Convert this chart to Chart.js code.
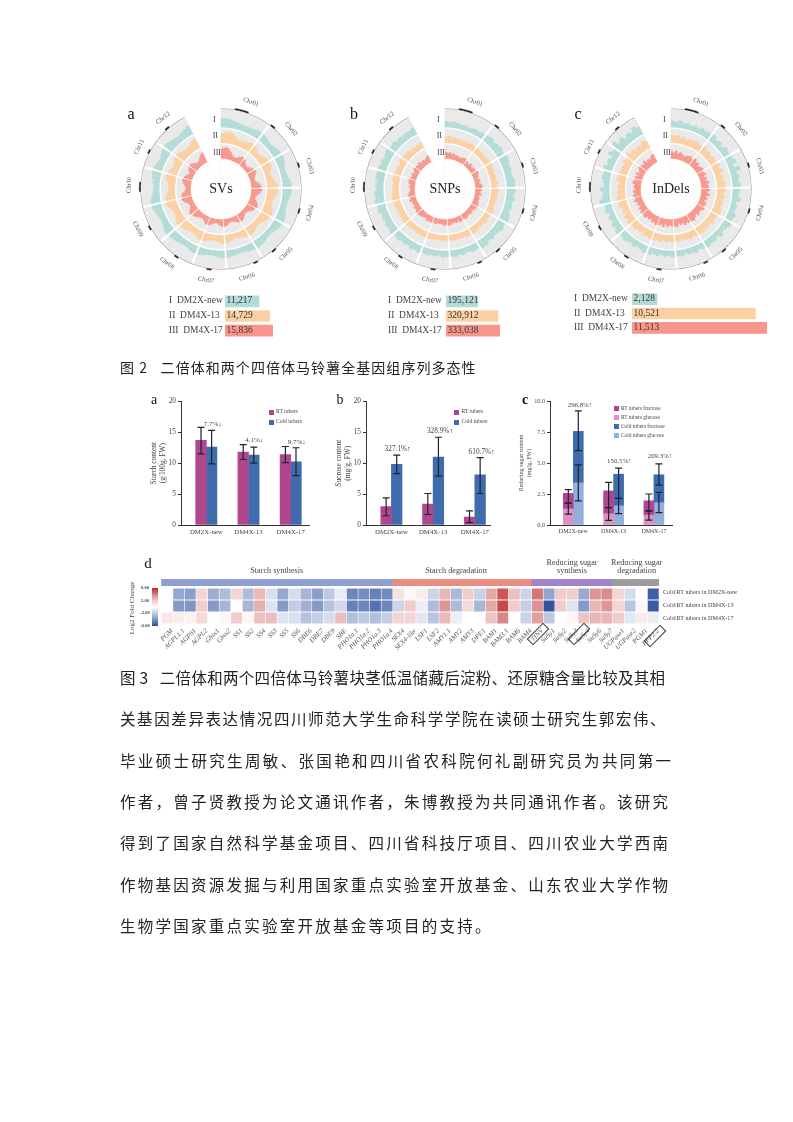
<!DOCTYPE html>
<html>
<head>
<meta charset="utf-8">
<script src="https://cdn.jsdelivr.net/npm/chart.js@4"></script>
<style>
html, body { margin: 0; padding: 0; background: #fff; }
#page { position: relative; width: 793px; height: 1122px; overflow: hidden; font-family: "Liberation Serif", serif; color: #444; filter: blur(0.4px); }
#page canvas { position: absolute; }
.t { position: absolute; white-space: pre; line-height: 1; transform: translate(-50%, -50%); }
.l { position: absolute; white-space: pre; line-height: 1; transform: translateY(-50%); }
.zh { position: absolute; white-space: pre; line-height: 1; transform: translateY(-50%); font-family: "Noto Sans CJK SC", sans-serif; color: #222; }
.sw { position: absolute; width: 5px; height: 5px; }
.box { position: absolute; border: 1px solid #333; transform: translate(-50%, -50%) rotate(-45deg); }
</style>
</head>
<body>
<div id="page"></div>
<script>
// circular plots: 12 chromosomes, bin counts per chromosome
const chromosomes = ['Chr01','Chr02','Chr03','Chr04','Chr05','Chr06','Chr07','Chr08','Chr09','Chr10','Chr11','Chr12'];
const chrSpans = [38, 23, 29, 30, 30, 27, 25, 28, 28, 29, 20, 28];
const chrBins = [11, 6, 8, 8, 8, 8, 7, 8, 8, 8, 6, 8];
const centromereBins = [3,4,5, 11, 20, 29, 38, 42, 52, 59, 67, 75,76, 83, 89];

// ring heights, % of the ring
const svI = [52,50,47,42,38,34,32,34,38,42,46,
  44,38,30,32,40,46,
  48,44,36,30,32,38,46,50,
  52,46,40,34,34,38,46,52,
  50,44,36,30,30,36,42,46,
  42,38,34,30,30,34,38,42,
  44,38,32,30,32,38,44,
  46,40,34,32,34,40,44,46,
  52,46,40,34,34,40,48,54,
  54,48,40,34,34,40,48,52,
  50,44,36,36,44,50,
  54,48,42,38,36,40,48,56];
const svII = [66,78,82,76,62,48,42,44,50,58,66,
  62,50,40,42,54,64,
  70,62,48,42,44,54,68,76,
  80,72,58,48,46,56,70,78,
  72,62,48,40,40,48,60,66,
  60,52,44,40,40,46,54,60,
  62,52,44,40,44,52,62,
  66,56,46,44,46,54,62,66,
  74,64,52,46,46,54,68,78,
  76,68,54,46,46,54,66,72,
  66,58,46,48,60,70,
  72,64,54,48,50,58,70,78];
const svIII = [72,78,80,72,58,42,32,30,36,48,60,
  52,38,30,30,42,56,
  64,54,40,32,34,46,62,70,
  76,66,50,38,36,50,66,72,
  62,52,38,30,30,38,50,58,
  52,44,34,30,30,36,46,52,
  54,42,32,30,34,44,54,
  58,46,36,32,36,46,54,58,
  68,56,42,34,36,46,62,72,
  70,60,44,36,36,46,60,66,
  60,48,36,38,52,62,
  66,56,44,36,40,50,64,74];
const snpI = [34,30,36,32,26,30,24,28,32,30,34,
  38,44,36,42,48,40,
  52,46,38,44,36,42,50,46,
  50,42,48,38,44,36,46,52,
  44,50,40,36,42,34,46,48,
  36,42,34,30,38,32,40,36,
  34,38,30,36,32,38,34,
  42,36,44,32,38,34,44,40,
  48,40,46,36,42,34,50,46,
  54,46,52,40,46,38,50,48,
  48,40,46,36,44,50,
  40,46,36,42,34,40,36,44];
const snpII = [44,48,40,46,38,42,36,44,40,46,42,
  46,38,44,36,42,48,
  50,42,48,38,44,40,52,46,
  54,46,50,40,44,38,48,52,
  46,40,48,36,42,38,46,50,
  42,48,38,44,36,42,46,40,
  44,38,42,36,44,40,46,
  42,48,38,44,36,42,46,44,
  52,44,48,38,46,40,50,54,
  56,48,52,42,46,40,50,52,
  48,42,50,38,46,52,
  50,44,48,40,46,38,44,48];
const snpIII = [48,42,46,38,44,34,40,30,36,42,46,
  36,28,44,30,36,40,
  50,42,36,30,44,34,46,52,
  44,36,46,30,40,34,42,48,
  46,38,30,42,34,36,44,40,
  38,44,32,40,30,36,42,46,
  40,46,32,38,30,42,36,
  44,38,46,30,36,40,44,48,
  46,36,44,30,38,34,50,42,
  52,44,36,30,42,34,46,50,
  42,34,46,30,40,48,
  46,40,50,34,42,36,44,52];
const indelI = [38,32,42,30,36,26,34,28,40,32,36,
  44,30,38,26,42,36,
  40,52,30,60,34,44,36,48,
  42,34,50,28,38,30,46,40,
  46,36,30,44,28,38,34,42,
  36,28,40,30,34,26,38,32,
  40,30,36,26,38,32,42,
  44,34,28,40,30,36,46,38,
  48,36,44,30,40,28,46,38,
  62,44,36,52,30,38,48,42,
  54,38,46,32,60,44,
  70,44,58,36,50,40,62,48];
const indelII = [56,48,60,44,54,40,50,46,58,52,48,
  60,44,54,38,56,50,
  58,46,62,40,52,44,60,54,
  62,50,56,42,54,46,58,64,
  54,44,60,40,52,46,56,50,
  52,40,58,44,50,38,54,48,
  56,44,52,38,54,46,58,
  60,46,54,40,50,44,58,52,
  64,50,58,42,52,44,62,56,
  68,52,60,46,54,42,64,58,
  60,48,56,42,66,54,
  74,56,64,48,58,46,68,60];
const indelIII = [52,44,60,40,54,46,34,42,50,56,48,
  62,46,54,38,48,56,
  44,56,36,50,42,60,48,54,
  58,46,62,42,52,38,56,50,
  60,48,42,54,38,50,62,56,
  56,46,60,42,50,38,58,52,
  50,42,56,38,60,46,54,
  62,48,56,40,52,44,60,54,
  56,44,52,36,48,40,60,50,
  58,46,54,40,50,44,62,52,
  54,42,58,40,48,60,
  56,46,62,40,52,44,58,64];

const legendNames = ['I  DM2X-new', 'II  DM4X-13', 'III  DM4X-17'];
const svTotals = [11217, 14729, 15836];
const snpTotals = [195121, 320912, 333038];
const indelTotals = [2128, 10521, 11513];

// bar panels
const cultivars = ['DM2X-new', 'DM4X-13', 'DM4X-17'];
const starchRT = [13.7, 11.8, 11.4];
const starchCold = [12.6, 11.3, 10.2];
const starchRTLow = [11.5, 10.6, 10.1], starchRTHigh = [15.8, 13.0, 12.7];
const starchColdLow = [9.9, 10.0, 8.0], starchColdHigh = [15.3, 12.6, 12.5];
const sucroseRT = [3.0, 3.4, 1.3];
const sucroseCold = [9.8, 11.0, 8.1];
const sucroseRTLow = [1.5, 1.7, 0.4], sucroseRTHigh = [4.4, 5.1, 2.3];
const sucroseColdLow = [8.3, 7.9, 5.1], sucroseColdHigh = [11.3, 14.2, 10.9];
const rtGlucose = [1.3, 0.9, 0.8];
const rtFructose = [1.25, 1.85, 1.15];
const coldGlucose = [3.4, 1.55, 1.8];
const coldFructose = [4.15, 2.55, 2.25];
const rtGluLow = [0.87, 0.38, 0.4], rtGluHigh = [1.76, 1.4, 1.14];
const rtFruLow = [1.76, 1.4, 1.14], rtFruHigh = [2.85, 3.44, 2.5];
const coldGluLow = [1.95, 0.92, 1.0], coldGluHigh = [4.85, 2.14, 2.63];
const coldFruLow = [6.0, 2.14, 3.22], coldFruHigh = [9.2, 4.58, 4.93];

// heatmap
const genes = ['PGM','AGPL1.1','AGPS1','AGPL2','Gbss1','Gbss2','SS1','SS2','SS4','SS3','SS5','SS6','DBE6','DBE7','DBE9','SBE','PHO1a.1','PHO1a.2','PHO1a.3','PHO1a.4',
  'SEX4','SEX4-like','LSF1','LSF2','AMY1.1','AMY2','AMY3','DPE1','BAM1','BAM3.1','BAM6','BAM4',
  'TINV','SuSy1','SuSy2','SuSy3','SuSy4','SuSy6','SuSy7','UGPase1','UGPase2','PGM1','PFP2.2'];
const groupSizes = [20, 12, 7, 4];
const groupColors = ['#8f9fd0', '#e98c82', '#a283cb', '#9c9c9c'];
const foldDM2X = [0,-2.5,-2.8,0.8,-2.3,-1.8,0.8,-1.8,1.5,-0.7,-2.5,-0.8,-2,-2.8,-1.4,-0.4,-3.8,-3.5,-4,-3.6,
  0.5,0.1,0.3,-1,1.6,-1.9,1,-1.1,2,4.5,1.3,-1,3.5,-2.6,1,1,-2.4,2.5,2.8,0.8,-0.8,0,-5.3];
const foldDM4X13 = [0,-3,-3.2,1,-3,-2,0,-2,1.8,-0.6,-3,-1.3,-2.2,-3,-1.6,-0.9,-4,-3.8,-4.6,-3.8,
  -1,1,-0.3,-1.8,2.5,-1.8,0.7,-2,2,5,1,-1.2,2.6,-5.8,1,-0.6,-3,1.6,2.5,0.8,-1.5,0.1,-5.5];
const foldDM4X17 = [0.4,0.3,0.2,0.7,0,0.1,1,0.1,1.3,1.4,-0.6,-0.7,-1.6,-1.2,-0.8,1.4,-1.7,-1.4,-1.7,-1.2,
  0.8,0.8,-0.5,-1.5,1.5,-0.3,0,0,1.2,3,0,-1,2.2,-1.4,0,0.1,1.2,1.6,1.6,1,-0.5,0.3,-0.3];

const caption2 = '图 2   二倍体和两个四倍体马铃薯全基因组序列多态性';
const bodyLines = [
  '图 3   二倍体和两个四倍体马铃薯块茎低温储藏后淀粉、还原糖含量比较及其相',
  '关基因差异表达情况四川师范大学生命科学学院在读硕士研究生郭宏伟、',
  '毕业硕士研究生周敏、张国艳和四川省农科院何礼副研究员为共同第一',
  '作者，曾子贤教授为论文通讯作者，朱博教授为共同通讯作者。该研究',
  '得到了国家自然科学基金项目、四川省科技厅项目、四川农业大学西南',
  '作物基因资源发掘与利用国家重点实验室开放基金、山东农业大学作物',
  '生物学国家重点实验室开放基金等项目的支持。'
];

const page = document.getElementById('page');
const SERIF = '"Liberation Serif", serif';
const PINK = '#b0478e', BLUE = '#3f6cad', PINK_L = '#dc92c0', BLUE_L = '#93afdc';

function addCanvas(left, top, w, h) {
  const c = document.createElement('canvas');
  c.width = w; c.height = h;
  c.style.left = left + 'px'; c.style.top = top + 'px';
  c.style.width = w + 'px'; c.style.height = h + 'px';
  page.appendChild(c);
  return c;
}

function addText(cls, x, y, str, size, extra) {
  const d = document.createElement('div');
  d.className = cls;
  d.textContent = str;
  d.style.left = x + 'px'; d.style.top = y + 'px';
  d.style.fontSize = size + 'px';
  if (extra) Object.assign(d.style, extra);
  page.appendChild(d);
  return d;
}

// put the zero separators and the big gap between the chromosome bins
function withSeparators(vals) {
  const out = [];
  let k = 0;
  chrBins.forEach(n => {
    for (let i = 0; i < n; i++) out.push(vals[k++]);
    out.push(0);
  });
  return out;
}

function binAngles() {
  const out = [];
  chrBins.forEach((n, c) => {
    for (let i = 0; i < n; i++) out.push((chrSpans[c] - 2) / n);
    out.push(c === 11 ? 27 : 2);
  });
  return out;
}

function circularPlot(cx, cy, name, letter, letterX, ringI, ringII, ringIII) {
  const angles = binAngles();
  const flat = v => withSeparators(new Array(94).fill(v));
  const band = (vals, lo, hi) => withSeparators(vals).map(v => v ? lo + v / 100 * (hi - lo) : 0);
  const ticks = withSeparators(new Array(94).fill(0).map((v, i) => centromereBins.includes(i) ? 81.8 : 0));
  const layer = (data, color) => ({ data, backgroundColor: color, borderColor: color, borderWidth: color === '#fff' ? 1 : 0.3, angle: angles });
  const all = v => angles.map((a, i) => i === angles.length - 1 ? 0 : v);

  new Chart(addCanvas(cx - 84, cy - 84, 168, 168), {
    type: 'polarArea',
    data: {
      labels: angles.map((a, i) => String(i)),
      datasets: [
        layer(all(29.8), '#fff'),
        layer(band(ringIII, 30, 44.5), '#f8968b'),
        layer(flat(44.5), '#e9e9e9'),
        layer(all(45.6), '#fff'),
        layer(band(ringII, 46, 60), '#fbd1a3'),
        layer(flat(60), '#e9e9e9'),
        layer(all(61.1), '#fff'),
        layer(band(ringI, 61.5, 79.3), '#b4dcd6'),
        layer(flat(79.3), '#e9e9e9'),
        layer(all(79.4), '#fff'),
        layer(all(80.3), '#8d8d8d'),
        layer(ticks, '#222')
      ]
    },
    options: {
      responsive: false,
      animation: false,
      layout: { padding: 0 },
      plugins: { legend: { display: false }, tooltip: { enabled: false } },
      scales: { r: { display: false, min: 0, max: 84, ticks: { display: false } } }
    }
  });

  addText('t', cx, cy, name, 14, { color: '#222' });
  addText('t', cx - 6.7, cy - 68.7, 'I', 8);
  addText('t', cx - 5.7, cy - 52.7, 'II', 8);
  addText('t', cx - 4, cy - 36.4, 'III', 8);
  addText('t', letterX, 114, letter, 16, { color: '#111' });

  // chromosome names around the outside
  let a = 0;
  chromosomes.forEach((chr, i) => {
    const mid = a + chrSpans[i] / 2;
    a += chrSpans[i];
    const rad = mid * Math.PI / 180;
    let rot = mid;
    if (rot > 90 && rot <= 270) rot -= 180;
    else if (rot > 270) rot -= 360;
    addText('t', cx + 92 * Math.sin(rad), cy - 92 * Math.cos(rad), chr, 6.5, { transform: 'translate(-50%,-50%) rotate(' + rot + 'deg)', color: '#555' });
  });
}

function totalsPlot(left, top, h, w, values, nameX) {
  const colors = ['#b4dcd6', '#fbd1a3', '#f8968b'];
  new Chart(addCanvas(left, top, w, h), {
    type: 'bar',
    data: { labels: legendNames, datasets: [{ data: values, backgroundColor: colors, barThickness: 11, borderWidth: 0 }] },
    options: {
      indexAxis: 'y',
      responsive: false,
      animation: false,
      layout: { padding: 0 },
      plugins: { legend: { display: false }, tooltip: { enabled: false } },
      scales: {
        x: { display: false, min: 0, max: Math.max(...values) },
        y: { display: false }
      }
    }
  });
  values.forEach((v, i) => {
    const y = top + h / 6 + i * h / 3;
    addText('l', nameX, y, legendNames[i], 9.5);
    addText('l', left + 1.5, y, v.toLocaleString('en-US'), 9.5, { color: '#333' });
  });
}

// whiskers come from errLow / errHigh on each dataset
const errorBars = {
  id: 'errorBars',
  afterDatasetsDraw(chart) {
    const { ctx, scales: { y } } = chart;
    ctx.save();
    ctx.strokeStyle = '#1c2430';
    ctx.lineWidth = 1.2;
    chart.data.datasets.forEach((ds, d) => {
      if (!ds.errLow) return;
      chart.getDatasetMeta(d).data.forEach((bar, i) => {
        const lo = y.getPixelForValue(ds.errLow[i]);
        const hi = y.getPixelForValue(ds.errHigh[i]);
        ctx.beginPath();
        ctx.moveTo(bar.x, lo); ctx.lineTo(bar.x, hi);
        ctx.moveTo(bar.x - 3.5, lo); ctx.lineTo(bar.x + 3.5, lo);
        ctx.moveTo(bar.x - 3.5, hi); ctx.lineTo(bar.x + 3.5, hi);
        ctx.stroke();
      });
    });
    ctx.restore();
  }
};

function panelChart(originX, axisRight, firstCenter, spacing, yMax, yStep, yTitle, datasets, stacked, tickFmt, fontSizes) {
  const top = 401, bottom = 525, left = Math.round(originX) - 32;
  const xMin = 1 - (firstCenter - originX) / spacing;
  const xMax = xMin + (axisRight - originX) / spacing;
  new Chart(addCanvas(left, top - 6, axisRight - left, bottom - top + 6 + 20), {
    type: 'bar',
    data: { datasets },
    options: {
      responsive: false,
      animation: false,
      layout: { padding: { top: 6, right: 0, left: 0, bottom: 0 } },
      plugins: { legend: { display: false }, tooltip: { enabled: false } },
      scales: {
        x: {
          type: 'linear',
          offset: false,
          min: xMin, max: xMax,
          afterBuildTicks: s => { s.ticks = cultivars.map((c, i) => ({ value: i + 1 })); },
          afterFit: s => { s.height = 20; },
          grid: { display: false, drawTicks: false },
          border: { color: '#333', width: 1 },
          ticks: {
            callback: v => cultivars[v - 1],
            autoSkip: false, maxRotation: 0, padding: 3,
            font: { family: SERIF, size: fontSizes.x }, color: '#444'
          }
        },
        y: {
          stacked: stacked,
          min: 0, max: yMax,
          afterFit: s => { s.width = 32; },
          grid: { drawOnChartArea: false, tickLength: 3, tickColor: '#333' },
          border: { color: '#333', width: 1 },
          title: { display: true, text: yTitle, padding: 0, font: { family: SERIF, size: fontSizes.title, lineHeight: 1.25 }, color: '#444' },
          ticks: {
            stepSize: yStep, padding: 2, callback: tickFmt,
            font: { family: SERIF, size: fontSizes.tick }, color: '#444'
          }
        }
      }
    },
    plugins: [errorBars]
  });
}

function points(vals) {
  return vals.map((v, i) => ({ x: i + 1, y: v }));
}

function legendRows(x, size, rows) {
  rows.forEach(r => {
    const s = document.createElement('div');
    s.className = 'sw';
    s.style.left = (x - 2.5) + 'px'; s.style.top = (r[0] - 2.5) + 'px';
    s.style.background = r[1];
    page.appendChild(s);
    addText('l', x + 5, r[0], r[2], size);
  });
}

function heatColor(v) {
  const end = v < 0 ? [43, 79, 158] : [191, 42, 44];
  const t = Math.pow(Math.min(Math.abs(v) / 6, 1), 0.8);
  const c = end.map(e => Math.round(255 + (e - 255) * t));
  return 'rgb(' + c.join(',') + ')';
}

// ---- circular panels
circularPlot(221, 189, 'SVs', 'a', 131, svI, svII, svIII);
circularPlot(445, 189, 'SNPs', 'b', 354, snpI, snpII, snpIII);
circularPlot(671, 189, 'InDels', 'c', 578, indelI, indelII, indelIII);

totalsPlot(225, 294, 44, 48, svTotals, 169);
totalsPlot(446, 294, 44, 54, snpTotals, 388);
totalsPlot(632, 292, 43, 135, indelTotals, 574);

addText('zh', 120, 367, caption2, 14, { letterSpacing: '1.05px' });

// ---- panel a
const abFonts = { x: 6.8, title: 7.4, tick: 7.3 };
panelChart(181, 310, 206.3, 42.2, 20, 5, ['Starch content', '(g/100g, FW)'], [
  { data: points(starchRT), backgroundColor: PINK, barThickness: 10.6, errLow: starchRTLow, errHigh: starchRTHigh },
  { data: points(starchCold), backgroundColor: BLUE, barThickness: 10.6, errLow: starchColdLow, errHigh: starchColdHigh }
], false, undefined, abFonts);
addText('t', 154, 400, 'a', 14, { color: '#111' });
legendRows(271, 5.6, [[412, PINK, 'RT tubers'], [422, BLUE, 'Cold tubers']]);
addText('t', 212.7, 423.7, '7.7%↓', 7);
addText('t', 254.3, 440.3, '4.1%↓', 7);
addText('t', 296.7, 442.3, '9.7%↓', 7);

// ---- panel b
panelChart(366, 492, 391.7, 42.2, 20, 5, ['Sucrose content', '(mg/g, FW)'], [
  { data: points(sucroseRT), backgroundColor: PINK, barThickness: 10.6, errLow: sucroseRTLow, errHigh: sucroseRTHigh },
  { data: points(sucroseCold), backgroundColor: BLUE, barThickness: 10.6, errLow: sucroseColdLow, errHigh: sucroseColdHigh }
], false, undefined, abFonts);
addText('t', 340, 400, 'b', 14, { color: '#111' });
legendRows(456.5, 5.6, [[412, PINK, 'RT tubers'], [422, BLUE, 'Cold tubers']]);
addText('t', 397.7, 449, '327.1%↑', 7.3);
addText('t', 440, 430.7, '328.9%↑', 7.3);
addText('t', 481.7, 451.7, '610.7%↑', 7.3);

// ---- panel c
panelChart(550, 673, 573.3, 40.3, 10, 2.5, ['Reducing sugar content', '(mg/g, FW)'], [
  { data: points(rtGlucose), backgroundColor: PINK_L, stack: 'rt', barThickness: 10, errLow: rtGluLow, errHigh: rtGluHigh },
  { data: points(rtFructose), backgroundColor: PINK, stack: 'rt', barThickness: 10, errLow: rtFruLow, errHigh: rtFruHigh },
  { data: points(coldGlucose), backgroundColor: BLUE_L, stack: 'cold', barThickness: 10, errLow: coldGluLow, errHigh: coldGluHigh },
  { data: points(coldFructose), backgroundColor: BLUE, stack: 'cold', barThickness: 10, errLow: coldFruLow, errHigh: coldFruHigh }
], true, v => v.toFixed(1), { x: 6, title: 6, tick: 6.2 });
addText('t', 525, 400, 'c', 14, { color: '#111', fontWeight: 'bold' });
legendRows(616, 5.4, [[408.5, PINK, 'RT tubers fructose'], [417.5, PINK_L, 'RT tubers glucose'], [426.5, BLUE, 'Cold tubers fructose'], [435.5, BLUE_L, 'Cold tubers glucose']]);
addText('t', 580, 405, '296.8%↑', 6.8);
addText('t', 619.3, 461, '150.5%↑', 6.8);
addText('t', 660, 456, '209.3%↑', 6.8);

// ---- panel d heatmap, rows are floating bars, one dataset per row
const bandColors = groupSizes.flatMap((n, i) => new Array(n).fill(groupColors[i]));
const heatRow = (vals, r) => ({
  data: vals.map(() => [r + 0.04, r + 0.96]),
  backgroundColor: vals.map(heatColor),
  grouped: false, barPercentage: 0.95, categoryPercentage: 1
});
new Chart(addCanvas(110, 579, 552, 85), {
  type: 'bar',
  data: {
    labels: genes,
    datasets: [
      { data: genes.map(() => [-0.75, -0.17]), backgroundColor: bandColors, borderColor: bandColors, borderWidth: 0.5, grouped: false, barPercentage: 1, categoryPercentage: 1 },
      heatRow(foldDM2X, 0),
      heatRow(foldDM4X13, 1),
      heatRow(foldDM4X17, 2)
    ]
  },
  options: {
    responsive: false,
    animation: false,
    layout: { padding: { left: 51.3, right: 2, top: 0, bottom: 0 } },
    plugins: { legend: { display: false }, tooltip: { enabled: false } },
    scales: {
      x: {
        afterFit: s => { s.height = 40; },
        grid: { display: false, drawTicks: false },
        border: { display: false },
        ticks: {
          autoSkip: false, minRotation: 45, maxRotation: 45, padding: 3, labelOffset: 5,
          font: { family: SERIF, size: 6.8, style: 'italic' }, color: '#555'
        }
      },
      y: { display: false, reverse: true, min: -0.75, max: 3 }
    }
  }
});
addText('t', 148, 563, 'd', 15, { color: '#111' });
addText('t', 276.7, 570.7, 'Starch synthesis', 8.2);
addText('t', 456, 570.7, 'Starch degradation', 8.2);
addText('t', 572, 562.5, 'Reducing sugar', 8.2);
addText('t', 572, 571, 'synthesis', 8.2);
addText('t', 636.7, 562.5, 'Reducing sugar', 8.2);
addText('t', 636.7, 571, 'degradation', 8.2);
['Cold/RT tubers in DM2X-new', 'Cold/RT tubers in DM4X-13', 'Cold/RT tubers in DM4X-17'].forEach((s, i) => {
  addText('l', 663, 592 + i * 13.2, s, 6.1);
});
addText('t', 132, 608, 'Log2 Fold Change', 7, { transform: 'translate(-50%,-50%) rotate(-90deg)' });
const bar = document.createElement('div');
bar.style.cssText = 'position:absolute;left:152px;top:588px;width:6px;height:38px;background:linear-gradient(#b2262c,#e9a9a5 25%,#fff 50%,#9db0d8 75%,#2b4f9e);';
page.appendChild(bar);
['6.00', '2.00', '-2.00', '-6.00'].forEach((s, i) => {
  addText('t', 145, 588 + i * 12.5, s, 4.5, { fontWeight: 'bold' });
});
[[538.3, 634, 21], [579.3, 634.3, 21], [655, 636, 21]].forEach(b => {
  const d = document.createElement('div');
  d.className = 'box';
  d.style.left = b[0] + 'px'; d.style.top = b[1] + 'px';
  d.style.width = b[2] + 'px'; d.style.height = '7px';
  page.appendChild(d);
});

// ---- running text
const bodySpacing = [0.3, 1.6, 2.35, 2.25, 2.25, 2.25, 2.25];
bodyLines.forEach((line, i) => {
  addText('zh', 120, 678 + i * 41.3, line, 15.5, { letterSpacing: bodySpacing[i] + 'px' });
});
</script>
</body>
</html>
